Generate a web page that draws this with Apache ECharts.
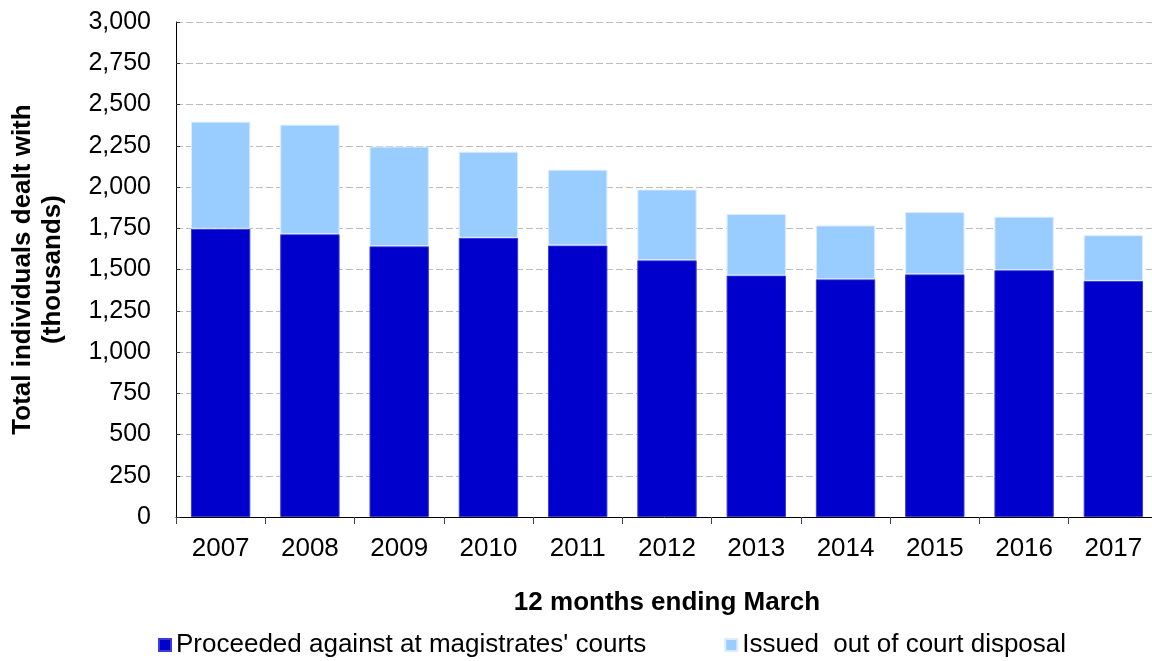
<!DOCTYPE html>
<html>
<head>
<meta charset="utf-8">
<script src="https://cdn.jsdelivr.net/npm/echarts@6/dist/echarts.min.js"></script>
<style>
  html, body { margin: 0; padding: 0; background: #fff; overflow: hidden; }
  #chart { width: 1152px; height: 661px; }
</style>
</head>
<body>
<div id="chart"></div>
<script>
const years = ['2007', '2008', '2009', '2010', '2011', '2012', '2013', '2014', '2015', '2016', '2017']
const proceeded = [1747, 1714, 1641, 1692, 1646, 1556, 1464, 1441, 1471, 1496, 1431]
const outOfCourt = [649, 664, 604, 522, 459, 429, 372, 326, 377, 324, 277]

const font = 'Liberation Sans, Arial, sans-serif'

const chart = echarts.init(document.getElementById('chart'), null, { renderer: 'canvas' })

chart.setOption({
  backgroundColor: '#ffffff',
  animation: false,
  textStyle: { fontFamily: font },
  // the source chart is cut off on the right: the last category ends past the edge
  grid: { left: 176, right: -6, top: 22, bottom: 144, outerBoundsMode: 'none' },
  legend: {
    left: 153,
    top: 627,
    icon: 'rect',
    itemWidth: 12,
    itemHeight: 12,
    itemGap: 78,
    textStyle: { fontSize: 26, color: '#000', fontFamily: font },
    data: ["Proceeded against at magistrates' courts", 'Issued  out of court disposal']
  },
  xAxis: {
    type: 'category',
    data: years,
    name: '12 months ending March',
    nameLocation: 'middle',
    nameGap: 73,
    nameTextStyle: { fontSize: 26, fontWeight: 'bold', color: '#000', fontFamily: font },
    axisLine: { lineStyle: { color: '#000', width: 1 } },
    axisTick: { show: true, length: 7, lineStyle: { color: '#444' } },
    axisLabel: { fontSize: 26, color: '#000', margin: 19, fontFamily: font }
  },
  yAxis: {
    type: 'value',
    min: 0,
    max: 3000,
    interval: 250,
    name: 'Total individuals dealt with\n(thousands)',
    nameLocation: 'middle',
    nameGap: 108,
    nameTextStyle: { fontSize: 26, fontWeight: 'bold', color: '#000', lineHeight: 30, fontFamily: font },
    axisLine: { show: true, lineStyle: { color: '#000', width: 1 } },
    axisTick: { show: true, inside: true, length: 4, lineStyle: { color: '#333' } },
    axisLabel: {
      fontSize: 25,
      color: '#000',
      margin: 25,
      fontFamily: font,
      formatter: v => v.toLocaleString('en-US')
    },
    splitLine: { lineStyle: { color: '#bdbdbd', type: [7, 3], width: 1 } }
  },
  series: [
    {
      name: "Proceeded against at magistrates' courts",
      type: 'bar',
      stack: 'total',
      data: proceeded,
      barCategoryGap: '33.5%',
      itemStyle: { color: '#0000CC', borderColor: '#3b3bd9', borderWidth: 1 }
    },
    {
      name: 'Issued  out of court disposal',
      type: 'bar',
      stack: 'total',
      data: outOfCourt,
      barCategoryGap: '33.5%',
      itemStyle: { color: '#99CCFF', borderColor: '#dcecff', borderWidth: 1 }
    }
  ]
})
</script>
</body>
</html>
